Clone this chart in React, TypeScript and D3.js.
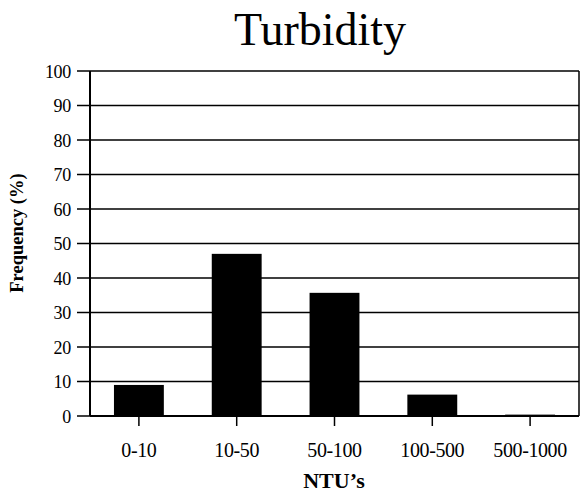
import React from "react";
import * as d3 from "d3";

const categories = ["0-10", "10-50", "50-100", "100-500", "500-1000"];
const values = [9, 47, 35.7, 6.2, 0.4];
const yTicks = [0, 10, 20, 30, 40, 50, 60, 70, 80, 90, 100];

export default function App() {
  const W = 582, H = 495;
  const m = { left: 90, right: 3, top: 71, bottom: 79 };
  const x = d3.scaleBand().domain(categories).range([m.left, W - m.right]).paddingInner(0.49).paddingOuter(0.245);
  const y = d3.scaleLinear().domain([0, 100]).range([H - m.bottom, m.top]);
  const font = "'Liberation Serif', 'Times New Roman', serif";
  return (
    <svg width={W} height={H} style={{ position: "absolute", left: 0, top: 0 }} fontFamily={font}>
      <rect width={W} height={H} fill="#fff" />
      <text x={320} y={45} textAnchor="middle" fontSize={46}>Turbidity</text>
      {yTicks.map((t) => (
        <g key={t}>
          <line x1={m.left - 13} x2={W - m.right} y1={y(t)} y2={y(t)} stroke="#000" strokeWidth={1.5} />
          <text x={71} y={y(t) + 6.5} textAnchor="end" fontSize={18} letterSpacing={-0.3}>{t}</text>
        </g>
      ))}
      <line x1={m.left} x2={m.left} y1={m.top} y2={y(0)} stroke="#000" strokeWidth={2} />
      <line x1={W - m.right} x2={W - m.right} y1={m.top} y2={y(0)} stroke="#000" strokeWidth={1.5} />
      <line x1={m.left} x2={W - m.right} y1={y(0)} y2={y(0)} stroke="#000" strokeWidth={2} />
      {categories.map((c, i) => (
        <g key={c}>
          <rect x={x(c)!} y={y(values[i])} width={x.bandwidth()} height={y(0) - y(values[i])} fill="#000" />
          <line x1={x(c)! + x.bandwidth() / 2} x2={x(c)! + x.bandwidth() / 2} y1={y(0)} y2={y(0) + 10} stroke="#000" strokeWidth={1.5} />
          <text x={x(c)! + x.bandwidth() / 2} y={457} textAnchor="middle" fontSize={20} letterSpacing={-0.4}>{c}</text>
        </g>
      ))}
      <text x={334} y={488} textAnchor="middle" fontSize={22} fontWeight="bold">NTU’s</text>
      <text transform="translate(23,233) rotate(-90)" textAnchor="middle" fontSize={18.5} fontWeight="bold">Frequency (%)</text>
    </svg>
  );
}
